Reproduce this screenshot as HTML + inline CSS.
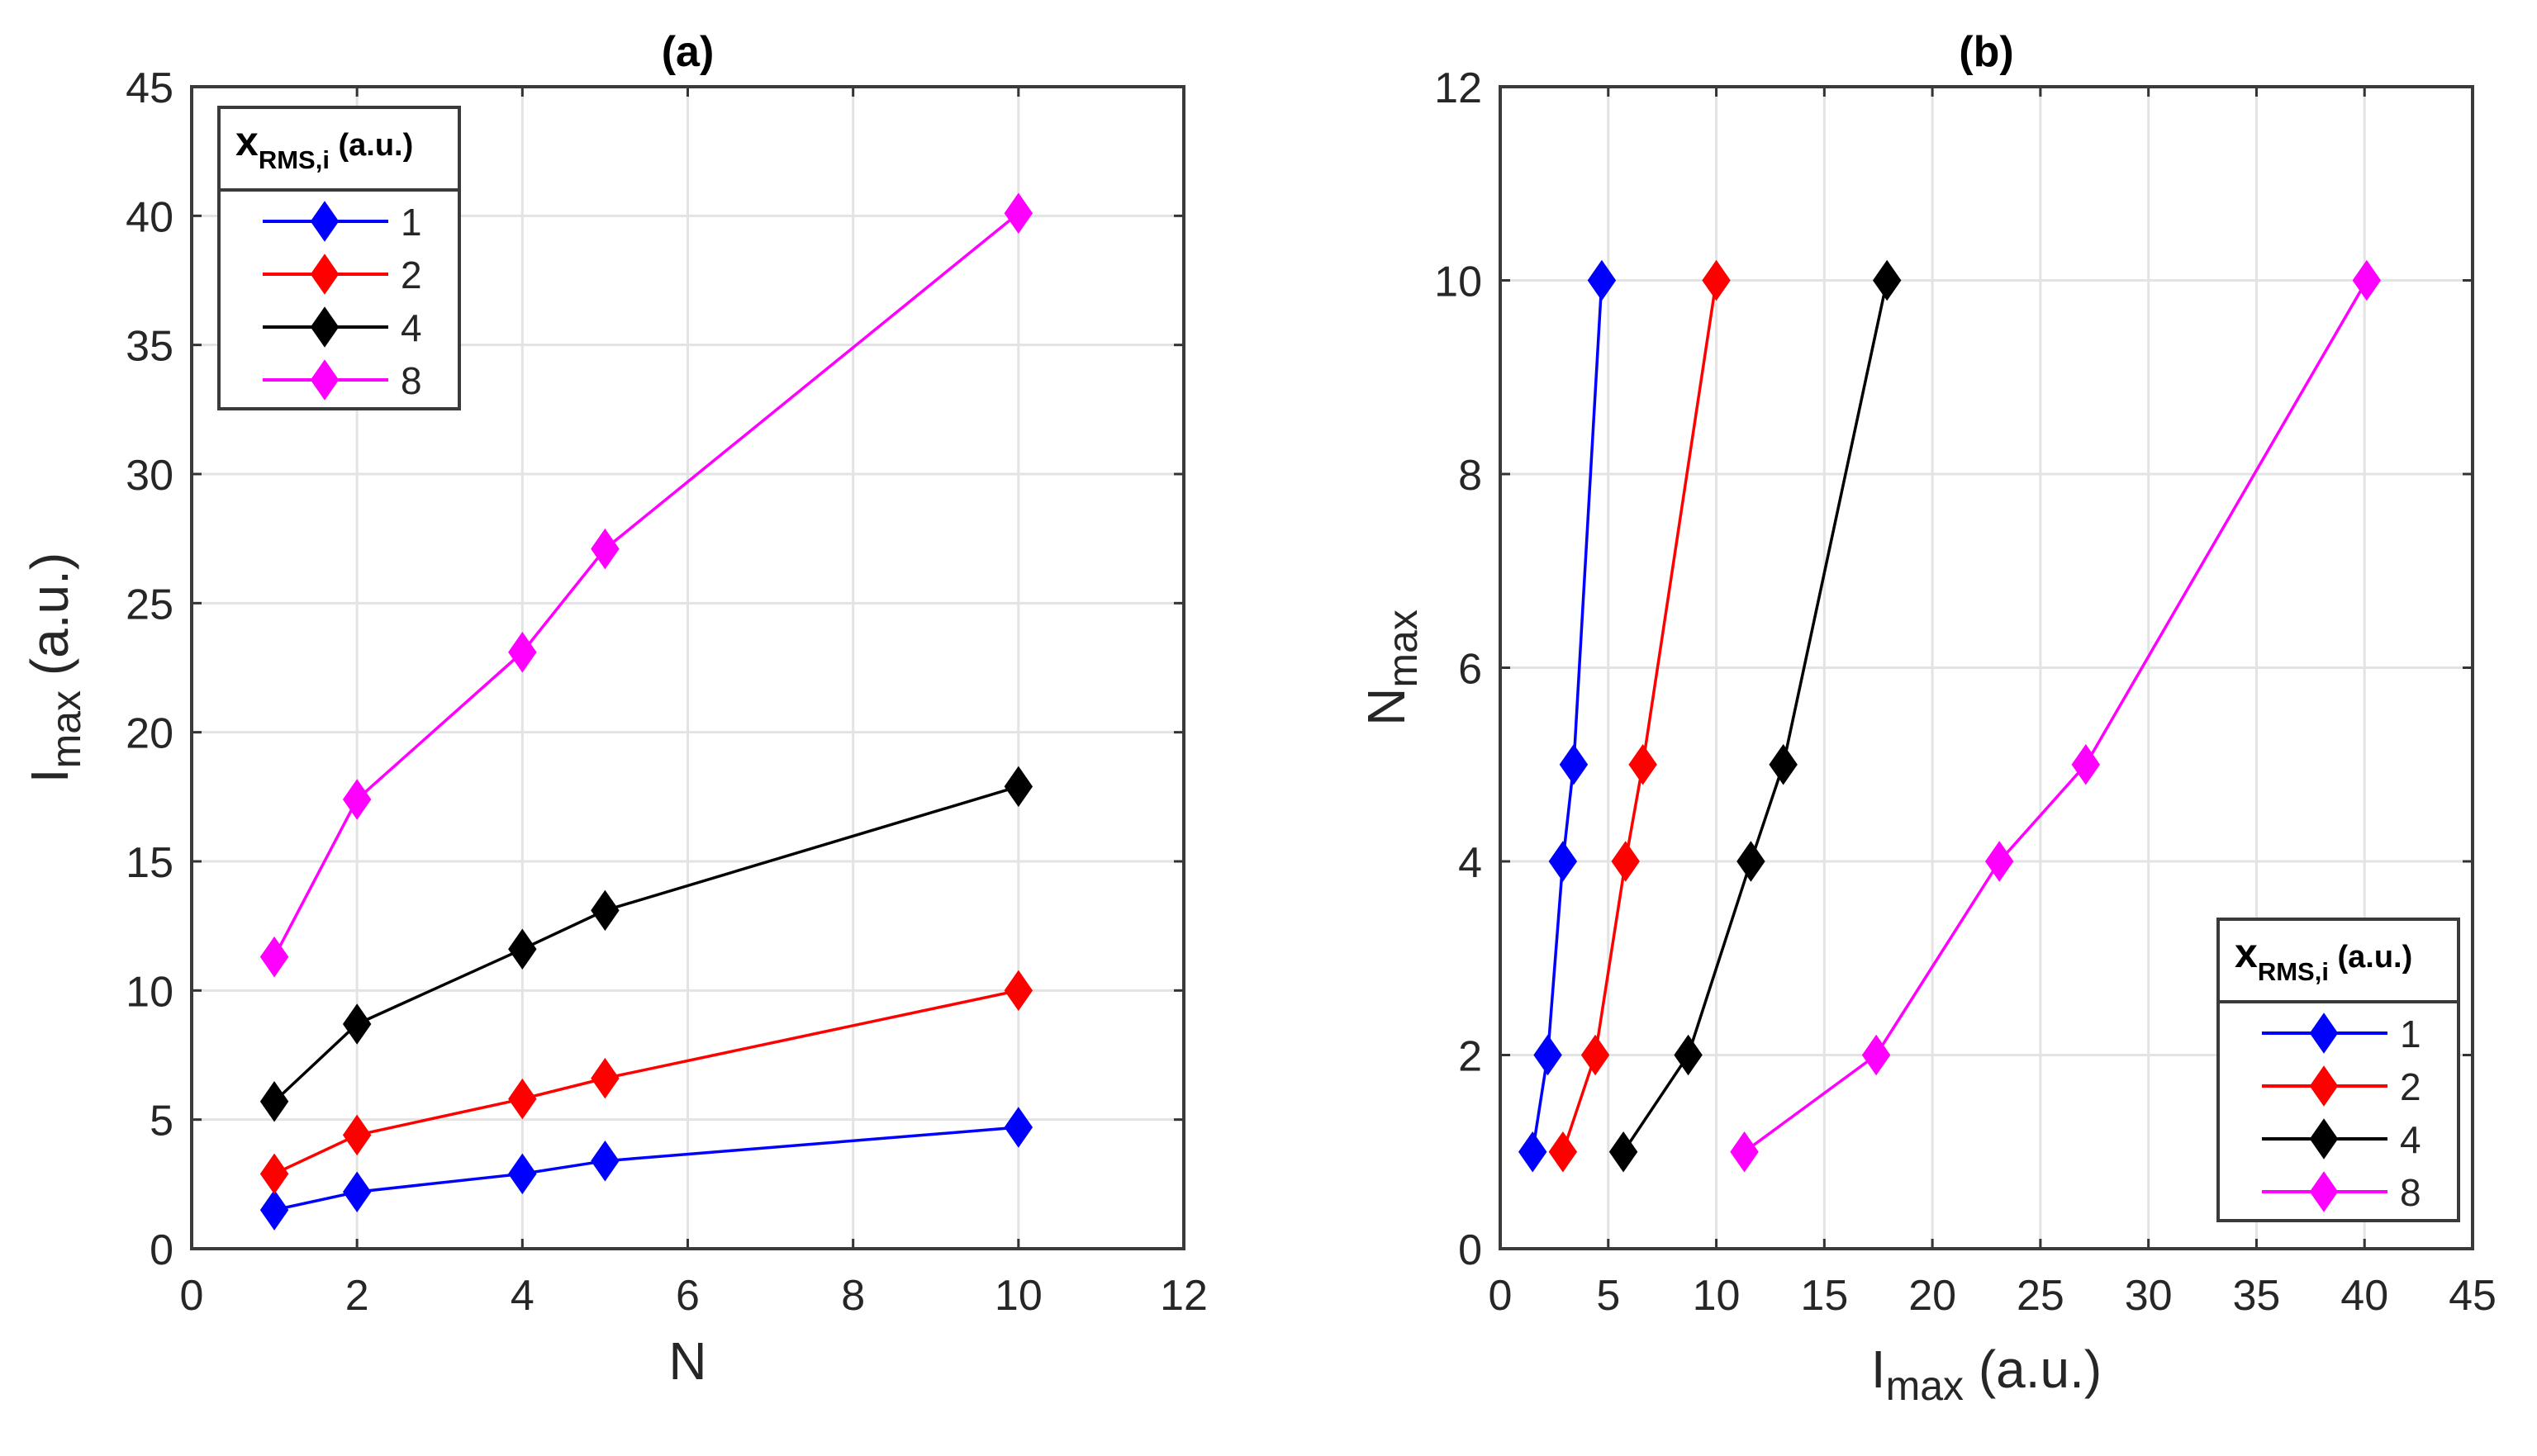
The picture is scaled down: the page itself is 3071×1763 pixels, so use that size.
<!DOCTYPE html>
<html><head><meta charset="utf-8"><style>
html,body{margin:0;padding:0;background:#fff;}
svg{display:block;font-family:"Liberation Sans",Arial,sans-serif;}
</style></head><body>
<svg id="fig" width="3071" height="1763" viewBox="0 0 3071 1763" xmlns="http://www.w3.org/2000/svg"></svg>
<script>
const nValues = [1, 2, 4, 5, 10];
const seriesLabels = ["1", "2", "4", "8"];
const seriesColors = ["#0000ff", "#ff0000", "#000000", "#ff00ff"];
const imax1 = [1.5, 2.2, 2.9, 3.4, 4.7];
const imax2 = [2.9, 4.4, 5.8, 6.6, 10.0];
const imax4 = [5.7, 8.7, 11.6, 13.1, 17.9];
const imax8 = [11.3, 17.4, 23.1, 27.1, 40.1];
const ticksA_x = [0, 2, 4, 6, 8, 10, 12];
const ticksA_y = [0, 5, 10, 15, 20, 25, 30, 35, 40, 45];
const ticksB_x = [0, 5, 10, 15, 20, 25, 30, 35, 40, 45];
const ticksB_y = [0, 2, 4, 6, 8, 10, 12];
const allSeries = [imax1, imax2, imax4, imax8];

const NS = "http://www.w3.org/2000/svg";
const svg = document.getElementById("fig");
function mk(tag, attrs, parent) {
  const e = document.createElementNS(NS, tag);
  for (const k in attrs) e.setAttribute(k, attrs[k]);
  (parent || svg).appendChild(e);
  return e;
}
function diamond(cx, cy, color, parent) {
  return mk("polygon", {points: `${cx},${cy-23} ${cx+16},${cy} ${cx},${cy+23} ${cx-16},${cy}`, fill: color, stroke: color, "stroke-width": 2}, parent);
}

function panel(cfg) {
  const g = mk("g", {});
  
  
  const {L, R, T, B, xmin, xmax, ymin, ymax} = cfg;
  const sx = v => L + (v - xmin) / (xmax - xmin) * (R - L);
  const sy = v => B - (v - ymin) / (ymax - ymin) * (B - T);
  const grid = mk("g", {}, g);
  
  
  cfg.xt.forEach(t => mk("line", {x1: sx(t), x2: sx(t), y1: T, y2: B, stroke: "#e3e3e3", "stroke-width": 3}, grid));
  cfg.yt.forEach(t => mk("line", {x1: L, x2: R, y1: sy(t), y2: sy(t), stroke: "#e3e3e3", "stroke-width": 3}, grid));
  cfg.xt.forEach(t => {
    const tx = mk("text", {x: sx(t), y: B + 74, "font-size": 52, fill: "#262626", "text-anchor": "middle"}, g);
    tx.textContent = t;
    
    
    mk("line", {x1: sx(t), x2: sx(t), y1: B, y2: B - 12, stroke: "#333", "stroke-width": 3}, g);
    mk("line", {x1: sx(t), x2: sx(t), y1: T, y2: T + 12, stroke: "#333", "stroke-width": 3}, g);
  });
  cfg.yt.forEach(t => {
    const ty = mk("text", {x: L - 22, y: sy(t) + 19, "font-size": 52, fill: "#262626", "text-anchor": "end"}, g);
    ty.textContent = t;
    
    
    mk("line", {x1: L, x2: L + 12, y1: sy(t), y2: sy(t), stroke: "#333", "stroke-width": 3}, g);
    mk("line", {x1: R, x2: R - 12, y1: sy(t), y2: sy(t), stroke: "#333", "stroke-width": 3}, g);
  });
  allSeries.forEach((vals, i) => {
    const sg = mk("g", {}, g);
    
    
    const pts = nValues.map((n, j) => cfg.swap ? [sx(vals[j]), sy(n)] : [sx(n), sy(vals[j])]);
    const pl = mk("polyline", {points: pts.map(p => p.join(",")).join(" "), fill: "none", stroke: seriesColors[i], "stroke-width": 3.5}, sg);
    
    
    pts.forEach(p => {
      const d = diamond(p[0], p[1], seriesColors[i], sg);
      
      
    });
  });
  mk("rect", {x: L, y: T, width: R - L, height: B - T, fill: "none", stroke: "#3a3a3a", "stroke-width": 4}, g);
  const ti = mk("text", {x: (L + R) / 2, y: 80, "font-size": 52, "font-weight": "bold", fill: "#000", "text-anchor": "middle"}, g);
  ti.textContent = cfg.title;
  
  
  const xl = mk("text", {x: (L + R) / 2 + cfg.xlOff, y: B + cfg.xly, "font-size": 64, fill: "#262626", "text-anchor": "middle"}, g);
  xl.innerHTML = cfg.xlabel;
  
  
  const yc = (T + B) / 2;
  const yl = mk("text", {x: 0, y: 0, "font-size": 64, fill: "#262626", "text-anchor": "middle", transform: `translate(${cfg.ylx},${yc + cfg.ylOff}) rotate(-90)`}, g);
  yl.innerHTML = cfg.ylabel;
  
  
  const lg = mk("g", {}, g);
  
  
  const lx = cfg.lx, ly = cfg.ly;
  mk("rect", {x: lx, y: ly, width: 291, height: 365, fill: "#fff", stroke: "#3a3a3a", "stroke-width": 4}, lg);
  mk("line", {x1: lx, x2: lx + 291, y1: ly + 100, y2: ly + 100, stroke: "#3a3a3a", "stroke-width": 4}, lg);
  const lt = mk("text", {x: lx + 20, y: ly + 58, "font-size": 50, "font-weight": "bold", fill: "#000"}, lg);
  lt.innerHTML = 'x<tspan dy="16" font-size="31">RMS,i</tspan><tspan dy="-16" font-size="38"> (a.u.)</tspan>';
  
  
  seriesLabels.forEach((s, i) => {
    const e = mk("g", {}, lg);
    
    
    const yy = ly + 138 + i * 64;
    mk("line", {x1: lx + 53, x2: lx + 205, y1: yy, y2: yy, stroke: seriesColors[i], "stroke-width": 4}, e);
    diamond(lx + 128, yy, seriesColors[i], e);
    const t = mk("text", {x: lx + 220, y: yy + 17, "font-size": 46, fill: "#262626"}, e);
    t.textContent = s;
  });
}

panel({name: "panel-a", title: "(a)", L: 232, R: 1433, T: 105, B: 1512, xmin: 0, xmax: 12, ymin: 0, ymax: 45,
  xt: ticksA_x, yt: ticksA_y, swap: false, xlabel: "N", xlOff: 0, xly: 158,
  ylabel: 'I<tspan dy="15" font-size="50">max</tspan><tspan dy="-15"> (a.u.)</tspan>', ylx: 82, ylOff: 0,
  lx: 265, ly: 130});
panel({name: "panel-b", title: "(b)", L: 1816, R: 2993, T: 105, B: 1512, xmin: 0, xmax: 45, ymin: 0, ymax: 12,
  xt: ticksB_x, yt: ticksB_y, swap: true, xly: 168,
  xlabel: 'I<tspan dy="15" font-size="50">max</tspan><tspan dy="-15"> (a.u.)</tspan>', xlOff: 0,
  ylabel: 'N<tspan dy="15" font-size="50">max</tspan>', ylx: 1700, ylOff: 0,
  lx: 2685, ly: 1113});
</script>
</body></html>
